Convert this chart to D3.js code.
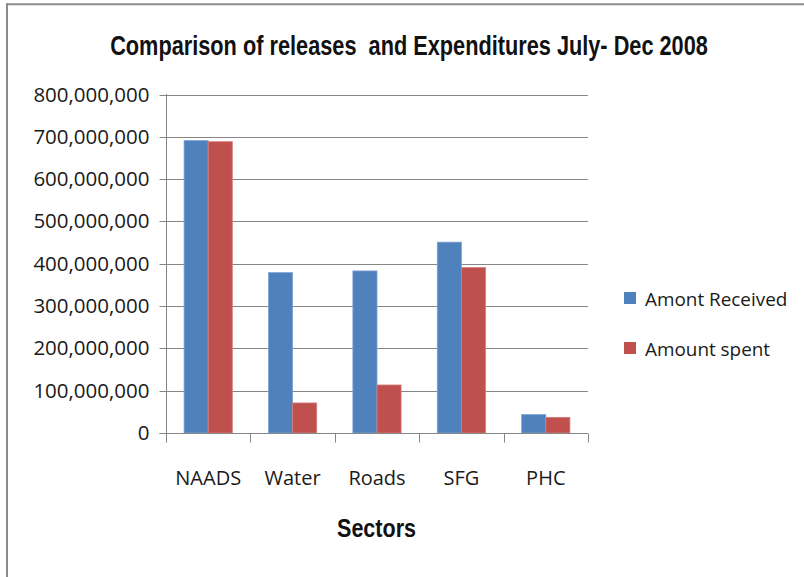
<!DOCTYPE html>
<html>
<head>
<meta charset="utf-8">
<script src="https://cdn.jsdelivr.net/npm/d3@7"></script>
<style>
  html, body { margin: 0; padding: 0; background: #fff; }
  svg { display: block; }
</style>
</head>
<body>
<svg id="chart" width="804" height="577"></svg>
<script>
const categories = ["NAADS", "Water", "Roads", "SFG", "PHC"];
const seriesNames = ["Amont Received", "Amount spent"];
const amountReceived = [691000000, 379000000, 383000000, 451000000, 43500000];
const amountSpent = [688500000, 71000000, 113500000, 391000000, 37000000];
const yTicks = [0, 100000000, 200000000, 300000000, 400000000, 500000000, 600000000, 700000000, 800000000];
const seriesColors = ["#4F81BD", "#C0504D"];
const titleText = "Comparison of releases  and Expenditures July- Dec 2008";
const xTitle = "Sectors";

const svg = d3.select("#chart");
const axisColor = "#868686";

// Frame (top and left border)
svg.append("rect").attr("x", 0).attr("y", 0).attr("width", 804).attr("height", 577).attr("fill", "#fff");
svg.append("line").attr("x1", 6).attr("x2", 804).attr("y1", 4.2).attr("y2", 4.2)
  .attr("stroke", "#8c8c8c").attr("stroke-width", 2);
svg.append("line").attr("x1", 7).attr("x2", 7).attr("y1", 3.2).attr("y2", 577)
  .attr("stroke", "#8c8c8c").attr("stroke-width", 2);

const plot = { left: 166, right: 588, top: 94.5, bottom: 433 };

const x = d3.scaleBand().domain(categories).range([plot.left, plot.right]).paddingInner(0).paddingOuter(0);
const xs = d3.scaleBand().domain(seriesNames).range([0, x.bandwidth()]).paddingInner(0).paddingOuter(0.75);
const y = d3.scaleLinear().domain([0, 800000000]).range([plot.bottom, plot.top]);

// gridlines
svg.append("g").selectAll("line").data(yTicks.filter(d => d > 0)).join("line")
  .attr("x1", plot.left).attr("x2", plot.right)
  .attr("y1", d => Math.round(y(d)) + 0.5).attr("y2", d => Math.round(y(d)) + 0.5)
  .attr("stroke", axisColor).attr("stroke-width", 1);

// bars
const series = [amountReceived, amountSpent];
const groups = svg.append("g");
categories.forEach((c, i) => {
  seriesNames.forEach((s, j) => {
    const v = series[j][i];
    groups.append("rect")
      .attr("x", x(c) + xs(s))
      .attr("y", y(v))
      .attr("width", xs.bandwidth())
      .attr("height", y(0) - y(v))
      .attr("fill", seriesColors[j])
      .attr("stroke", j === 0 ? "#7ea1d3" : "#d37f7c")
      .attr("stroke-width", 0.8);
  });
});

// Y axis
const yAxis = d3.axisLeft(y).tickValues(yTicks).tickSize(7).tickPadding(10)
  .tickFormat(d => d === 0 ? "0" : d3.format(",")(d));
const gy = svg.append("g").attr("transform", `translate(${plot.left + 0.5},0)`).call(yAxis);
gy.select(".domain").attr("stroke", axisColor).attr("d", `M-7,${Math.round(y(0)) + 0.5}H0V${plot.top - 0.5}`);
gy.selectAll(".tick line").attr("stroke", axisColor);
gy.selectAll(".tick").attr("transform", d => `translate(0,${Math.round(y(d)) + 0.5})`);
gy.selectAll(".tick text").attr("fill", "#1a1a1a")
  .style("font-family", "'Open Sans', sans-serif").style("font-size", "20.5px");

// X axis
const xAxis = d3.axisBottom(x).tickSize(0).tickPadding(0);
const gx = svg.append("g").attr("transform", `translate(0,${Math.round(y(0)) + 0.5})`).call(xAxis);
gx.select(".domain").attr("stroke", axisColor).attr("d", `M${plot.left},0H${plot.right}`);
gx.selectAll(".tick text").attr("fill", "#1a1a1a").attr("y", 51).attr("dy", null)
  .style("font-family", "'Open Sans', sans-serif").style("font-size", "20px");
// boundary ticks
const bounds = categories.map(c => x(c)).concat([plot.right]);
gx.append("g").selectAll("line").data(bounds).join("line")
  .attr("x1", d => Math.round(d) + 0.5).attr("x2", d => Math.round(d) + 0.5)
  .attr("y1", 0).attr("y2", 9).attr("stroke", axisColor);

// Condensed bold text helper: horizontally scaled to a target width
function condensedText(str, cx, baseline, size, targetWidth) {
  const t = svg.append("text").attr("x", 0).attr("y", 0).attr("text-anchor", "middle")
    .style("white-space", "pre")
    .style("font-family", "'Liberation Sans', Arial, sans-serif")
    .style("font-weight", "bold").style("font-size", size + "px").attr("fill", "#111")
    .text(str);
  const w = t.node().getComputedTextLength();
  const sx = targetWidth / w;
  t.attr("transform", `translate(${cx},${baseline}) scale(${sx},1)`);
  return t;
}

condensedText(titleText, 409, 55, 27, 598);
condensedText(xTitle, 376.5, 537, 26.5, 79);

// Legend
const legendY = [298, 348];
const lg = svg.append("g");
seriesNames.forEach((s, j) => {
  lg.append("rect").attr("x", 624).attr("y", legendY[j] - 6).attr("width", 12).attr("height", 12)
    .attr("fill", seriesColors[j]);
  lg.append("text").attr("x", 645).attr("y", legendY[j] + 8)
    .style("font-family", "'Open Sans', sans-serif").style("font-size", "18.9px").attr("fill", "#1a1a1a")
    .text(s);
});
</script>
</body>
</html>
